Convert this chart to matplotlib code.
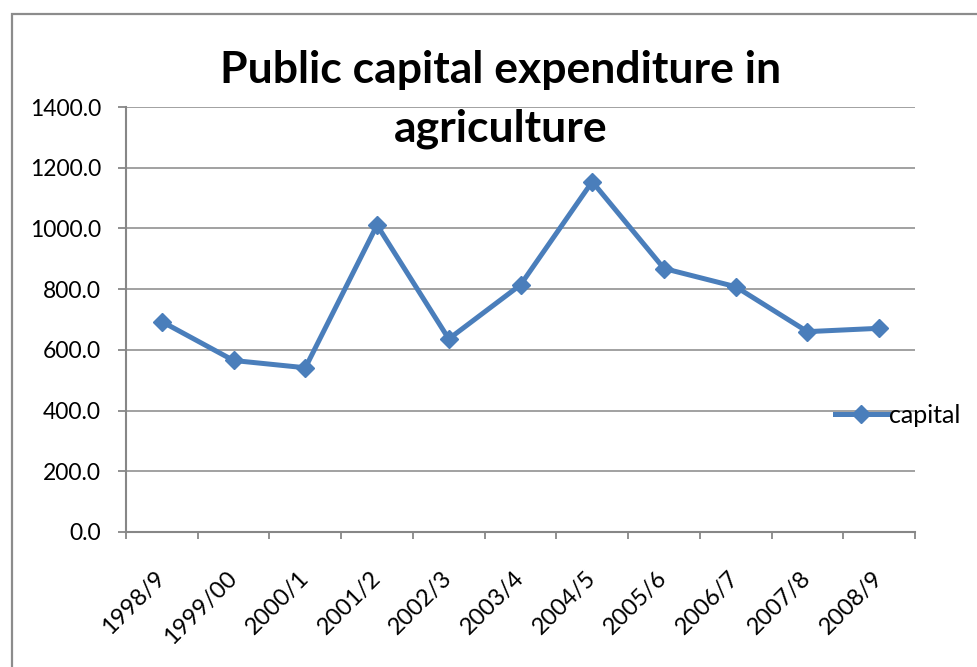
import matplotlib
matplotlib.use("Agg")
import matplotlib.pyplot as plt
from matplotlib.patches import Rectangle
from matplotlib.ticker import FixedLocator, NullFormatter
from matplotlib.transforms import ScaledTranslation

# Public capital expenditure in agriculture, by fiscal year
years = ["1998/9", "1999/00", "2000/1", "2001/2", "2002/3", "2003/4",
         "2004/5", "2005/6", "2006/7", "2007/8", "2008/9"]
capital = [693, 565, 541, 1011, 636, 814, 1154, 868, 808, 660, 671]
y_ticks = [0, 200, 400, 600, 800, 1000, 1200, 1400]

plt.rcParams["font.family"] = ["Lato", "DejaVu Sans"]

W, H, DPI = 977, 667, 100
fig = plt.figure(figsize=(W / DPI, H / DPI), dpi=DPI)
fig.patch.set_facecolor("white")

# outer chart frame
fig.patches.append(Rectangle((12 / W, -0.05), 1.2, 1 - 14 / H + 0.05,
                             transform=fig.transFigure, fill=False,
                             edgecolor="#8c8c8c", linewidth=1.6))

ax = fig.add_axes([126 / W, 1 - 532 / H, (915 - 126) / W, (532 - 107) / H])

blue = "#4a7ebb"
grey = "#878787"
x = list(range(len(years)))
ax.plot(x, capital, color=blue, linewidth=3.6, marker="D", markersize=9,
        markeredgecolor=blue, markerfacecolor=blue, label="capital",
        zorder=3, clip_on=False)

ax.set_xlim(-0.5, len(years) - 0.5)
ax.set_ylim(0, 1400)
ax.set_yticks(y_ticks)
ax.set_yticklabels([f"{v:.1f}" for v in y_ticks], fontsize=16.5)
ax.yaxis.grid(True, color=grey, linewidth=1.1)
ax.set_axisbelow(True)

# category boundaries carry the ticks, centres carry the labels
ax.xaxis.set_major_locator(FixedLocator([i - 0.5 for i in range(len(years) + 1)]))
ax.xaxis.set_major_formatter(NullFormatter())
ax.xaxis.set_minor_locator(FixedLocator(x))
ax.set_xticklabels(years, minor=True, fontsize=17, rotation=45,
                   ha="right", va="center", rotation_mode="anchor")
shift = ScaledTranslation(6 / DPI, 0, fig.dpi_scale_trans)
for lbl in ax.get_xticklabels(minor=True):
    lbl.set_transform(lbl.get_transform() + shift)
ax.tick_params(axis="x", which="major", length=5, width=1.3, color=grey,
               direction="out")
ax.tick_params(axis="x", which="minor", length=0, pad=31)
ax.tick_params(axis="y", length=6, width=1.3, color=grey, direction="out",
               pad=12)

for side in ("top", "right"):
    ax.spines[side].set_visible(False)
for side in ("left", "bottom"):
    ax.spines[side].set_color(grey)
    ax.spines[side].set_linewidth(1.5)

leg = ax.legend(loc="center left", bbox_to_anchor=(0.886, 0.275),
                frameon=False, fontsize=18, handlelength=2.1,
                handletextpad=0.05, borderaxespad=0)
for t in leg.get_texts():
    t.set_color("black")

fig.text(501 / W, 1 - 50 / H, "Public capital expenditure in\nagriculture",
         ha="center", va="top", fontsize=32, fontweight="bold",
         linespacing=1.55, zorder=5)

fig.savefig("out.png", dpi=DPI, facecolor="white")
